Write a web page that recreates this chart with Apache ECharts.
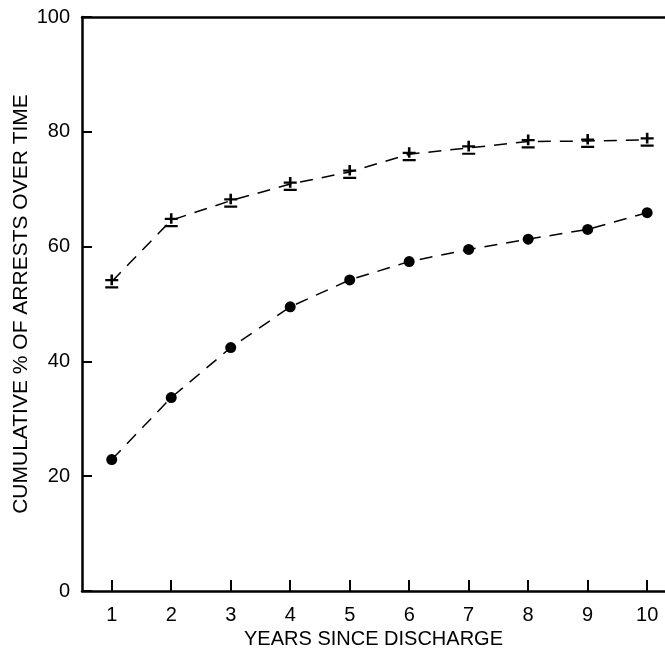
<!DOCTYPE html>
<html>
<head>
<meta charset="utf-8">
<script src="https://cdn.jsdelivr.net/npm/echarts@6/dist/echarts.min.js"></script>
<style>
  html, body { margin: 0; padding: 0; background: #fff; }
  #chart { width: 665px; height: 657px; }
</style>
</head>
<body>
<div id="chart"></div>
<script>
// years since discharge
const years = [1, 2, 3, 4, 5, 6, 7, 8, 9, 10]
// upper curve (plus/minus markers)
const upperPct = [53.9, 64.6, 68.0, 70.9, 73.0, 76.1, 77.2, 78.3, 78.4, 78.6]
// lower curve (filled dots)
const lowerPct = [22.9, 33.7, 42.4, 49.5, 54.2, 57.4, 59.5, 61.3, 63.0, 65.9]
const xTicks = [1, 2, 3, 4, 5, 6, 7, 8, 9, 10]
const yTicks = [0, 20, 40, 60, 80, 100]

const font = 'Liberation Sans, Arial, sans-serif'
// ± drawn as a path: plus sign over a bar
const plusMinus = 'path://M0,4H10V6H0Z M4,0H6V9.5H4Z M0,10.5H10V12.5H0Z'

let chart = echarts.init(document.getElementById('chart'))
let option = {
  animation: false,
  grid: { left: 82, right: 0, top: 17, bottom: 66, outerBoundsMode: 'none' },
  xAxis: [
    {
      type: 'value',
      min: 0.5,
      max: 10.3,
      name: 'YEARS SINCE DISCHARGE',
      nameLocation: 'middle',
      nameGap: 37,
      nameTextStyle: { fontFamily: font, fontSize: 20, color: '#000' },
      axisLine: { lineStyle: { color: '#000', width: 2.5 } },
      axisTick: { inside: true, length: 11, lineStyle: { width: 2, color: '#000' }, customValues: xTicks },
      axisLabel: { customValues: xTicks, margin: 14, fontFamily: font, fontSize: 20, color: '#000' },
      splitLine: { show: false }
    },
    {
      // top frame line
      type: 'value',
      position: 'top',
      min: 0.5,
      max: 10.3,
      axisLine: { show: true, lineStyle: { color: '#000', width: 2.5 } },
      axisTick: { show: false },
      axisLabel: { show: false },
      splitLine: { show: false }
    }
  ],
  yAxis: {
    type: 'value',
    min: 0,
    max: 100,
    interval: 20,
    name: 'CUMULATIVE % OF ARRESTS OVER TIME',
    nameLocation: 'middle',
    nameGap: 50,
    nameMoveOverlap: false,
    nameTextStyle: { fontFamily: font, fontSize: 21, color: '#000' },
    axisLine: { show: true, lineStyle: { color: '#000', width: 2.5 } },
    axisTick: { inside: true, length: 10, lineStyle: { width: 2, color: '#000' } },
    axisLabel: {
      margin: 12, fontFamily: font, fontSize: 20, color: '#000',
      formatter: v => yTicks.indexOf(v) >= 0 ? String(v) : ''
    },
    splitLine: { show: false }
  },
  series: [
    {
      type: 'line',
      data: years.map((y, i) => [y, upperPct[i]]),
      symbol: plusMinus,
      symbolSize: [13, 14],
      itemStyle: { color: '#000' },
      lineStyle: { color: '#000', width: 1.5, type: [13, 9] }
    },
    {
      type: 'line',
      data: years.map((y, i) => [y, lowerPct[i]]),
      symbol: 'circle',
      symbolSize: 11,
      itemStyle: { color: '#000' },
      lineStyle: { color: '#000', width: 1.5, type: [13, 9] }
    }
  ]
}
chart.setOption(option)
</script>
</body>
</html>
